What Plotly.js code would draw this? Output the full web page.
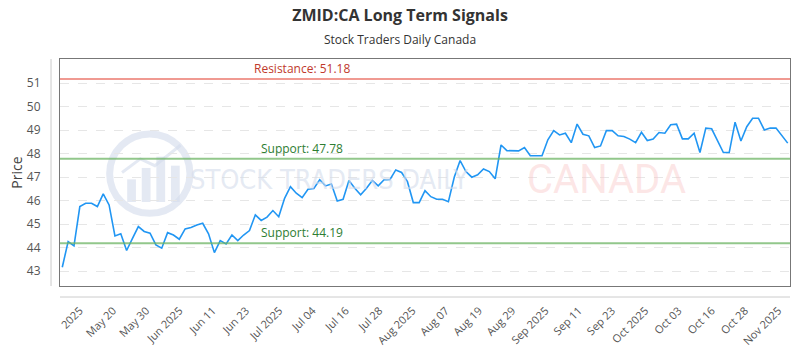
<!DOCTYPE html>
<html>
<head>
<meta charset="utf-8">
<script src="https://cdn.plot.ly/plotly-3.0.1.min.js"></script>
<style>html,body{margin:0;padding:0;background:#fff;}#chart{width:800px;height:350px;}</style>
</head>
<body>
<div id="chart"></div>
<script>
// Closing prices (one per trading session)
const prices = [
  43.17, 44.26, 44.08, 45.75, 45.89, 45.89, 45.75, 46.29, 45.82, 44.50,
  44.59, 43.88, 44.40, 44.90, 44.69, 44.62, 44.12, 43.98, 44.64, 44.54,
  44.36, 44.80, 44.86, 44.97, 45.04, 44.59, 43.79, 44.30, 44.16, 44.54,
  44.30, 44.54, 44.73, 45.40, 45.16, 45.30, 45.58, 45.32, 46.10, 46.60,
  46.32, 46.13, 46.49, 46.52, 46.89, 46.63, 46.71, 45.99, 46.06, 46.86,
  46.53, 46.25, 46.53, 46.86, 46.63, 46.89, 46.89, 47.31, 47.20, 46.81,
  45.92, 45.92, 46.43, 46.17, 46.06, 46.06, 45.96, 47.00, 47.71, 47.24,
  47.00, 47.10, 47.35, 47.24, 46.93, 48.37, 48.13, 48.13, 48.12, 48.26,
  47.91, 47.91, 47.91, 48.59, 48.98, 48.80, 48.87, 48.47, 49.26, 48.83,
  48.76, 48.26, 48.33, 48.98, 48.98, 48.76, 48.73, 48.62, 48.47, 48.91,
  48.56, 48.62, 48.90, 48.87, 49.23, 49.26, 48.63, 48.63, 48.87, 48.05,
  49.09, 49.06, 48.56, 48.05, 48.05, 49.34, 48.54, 49.15, 49.51, 49.51,
  49.01, 49.09, 49.09, 48.77, 48.45
];
const tickLabels = ["2025","May 20","May 30","Jun 2025","Jun 11","Jun 23","Jul 2025","Jul 04","Jul 16","Jul 28","Aug 2025","Aug 07","Aug 19","Aug 29","Sep 2025","Sep 11","Sep 23","Oct 2025","Oct 03","Oct 16","Oct 28","Nov 2025"];
const resistance = 51.18;
const supports = [47.78, 44.19];
const yTicks = [43, 44, 45, 46, 47, 48, 49, 50, 51];

const sessions = prices.map((_, i) => i);
const firstTick = 3.0, lastTick = 122.4;
const tickStep = (lastTick - firstTick) / (tickLabels.length - 1);
const tickVals = tickLabels.map((_, k) => firstTick + k * tickStep);

const font = "'Open Sans', 'Noto Sans', sans-serif";
const wm = 'rgba(212,220,235,0.62)';

const levelShapes = [
  {type:'line', xref:'paper', x0:0, x1:1, yref:'y', y0:resistance, y1:resistance,
   line:{color:'rgba(235,120,110,0.75)', width:2}},
  ...supports.map(s => ({type:'line', xref:'paper', x0:0, x1:1, yref:'y', y0:s, y1:s,
   line:{color:'rgba(110,180,100,0.75)', width:2}}))
];

const decoShapes = [
  // offset axis lines
  {type:'line', xref:'paper', yref:'paper', x0:-0.0123, x1:-0.0123, y0:0, y1:1, line:{color:'#cccccc', width:1}},
  {type:'line', xref:'paper', yref:'paper', x0:0, x1:1, y0:-0.0485, y1:-0.0485, line:{color:'#cccccc', width:1}},
  // watermark logo
  {type:'circle', xref:'paper', yref:'paper', x0:0.068, x1:0.178, y0:0.32, y1:0.67,
   line:{color:wm, width:7}, layer:'below'},
  {type:'rect', xref:'paper', yref:'paper', x0:0.092, x1:0.104, y0:0.37, y1:0.47, fillcolor:wm, line:{width:0}, layer:'below'},
  {type:'rect', xref:'paper', yref:'paper', x0:0.112, x1:0.124, y0:0.37, y1:0.52, fillcolor:wm, line:{width:0}, layer:'below'},
  {type:'rect', xref:'paper', yref:'paper', x0:0.132, x1:0.144, y0:0.37, y1:0.57, fillcolor:wm, line:{width:0}, layer:'below'},
  {type:'rect', xref:'paper', yref:'paper', x0:0.152, x1:0.164, y0:0.37, y1:0.53, fillcolor:wm, line:{width:0}, layer:'below'},
  {type:'path', xref:'paper', yref:'paper', path:'M 0.085 0.5 L 0.11 0.56 L 0.13 0.53 L 0.165 0.62', line:{color:wm, width:3}, layer:'below'}
];

const annotations = [
  {xref:'paper', x:0.3315, xanchor:'center', yref:'y', y:resistance, yanchor:'bottom', showarrow:false,
   text:'Resistance: ' + resistance.toFixed(2), font:{family:font, size:12, color:'#c0392b'}},
  ...supports.map(s => ({xref:'paper', x:0.3315, xanchor:'center', yref:'y', y:s, yanchor:'bottom', showarrow:false,
   text:'Support: ' + s.toFixed(2), font:{family:font, size:12, color:'#2e7d32'}})),
  {xref:'paper', x:0.368, xanchor:'center', yref:'paper', y:0.47, showarrow:false, text:'STOCK TRADERS DAILY',
   font:{family:"'DejaVu Sans Condensed', 'Liberation Sans Narrow', sans-serif", size:27, color:wm}},
  {xref:'paper', x:0.749, xanchor:'center', yref:'paper', y:0.47, showarrow:false, text:'CANADA',
   font:{family:"Roboto, sans-serif", size:40, color:'rgba(250,200,200,0.45)'}},
  {xref:'paper', x:0.4658, xanchor:'center', yref:'paper', y:1, yanchor:'bottom', yshift:9, showarrow:false,
   text:'Stock Traders Daily Canada', font:{family:font, size:12, color:'#333'}}
];

const trace = {
  x: sessions, y: prices, type:'scatter', mode:'lines',
  line:{color:'#2196f3', width:1.6}, hoverinfo:'y'
};

const layout = {
  width:800, height:350,
  margin:{l:60, r:10, t:59, b:64},
  paper_bgcolor:'#ffffff', plot_bgcolor:'#ffffff',
  font:{family:font, color:'#555'},
  title:{text:'<b>ZMID:CA Long Term Signals</b>', x:0.5, xanchor:'center', y:0.955, yanchor:'middle',
         font:{family:font, size:16, color:'#333'}},
  showlegend:false,
  xaxis:{type:'linear', range:[-0.39, 124.39], showgrid:false, zeroline:false,
         tickmode:'array', tickvals:tickVals, ticktext:tickLabels, tickangle:-45,
         ticks:'', ticklabelstandoff:13, tickfont:{family:font, size:11, color:'#555'},
         showline:true, linecolor:'#777', linewidth:1, mirror:true},
  yaxis:{range:[42.37, 52.03], tickmode:'array', tickvals:yTicks, ticks:'', ticklabelstandoff:16,
         tickfont:{family:font, size:12, color:'#555'},
         showgrid:true, gridcolor:'#e6e6e6', griddash:'dash', gridwidth:1, zeroline:false,
         showline:true, linecolor:'#777', linewidth:1, mirror:true,
         title:{text:'Price', font:{family:font, size:14, color:'#444'}, standoff:0}},
  shapes:[...decoShapes, ...levelShapes],
  annotations:annotations
};

Plotly.newPlot('chart', [trace], layout, {displayModeBar:false, staticPlot:true});
</script>
</body>
</html>
